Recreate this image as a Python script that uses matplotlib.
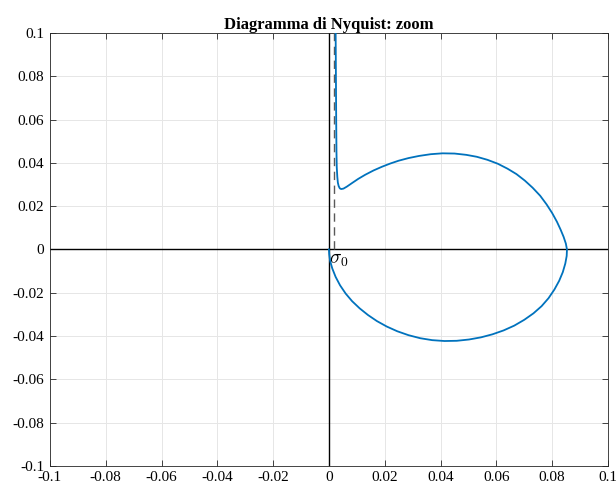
import numpy as np
import matplotlib
matplotlib.use("Agg")
import matplotlib.pyplot as plt

plt.rcParams["font.family"] = ["Liberation Serif", "DejaVu Serif"]
plt.rcParams["mathtext.fontset"] = "cm"

# Nyquist locus G(jw): w -> 0+ at the top (Im -> +inf), w -> inf at the origin
re_g = [0.0024, 0.0025, 0.0026, 0.0027, 0.0028, 0.0030, 0.0032, 0.0035,
        0.0039, 0.0044, 0.0052, 0.0064, 0.0082, 0.0105, 0.0130, 0.0160,
        0.0190, 0.0220, 0.0250, 0.0285, 0.0323, 0.0365, 0.0407, 0.0450,
        0.0492, 0.0530, 0.0568, 0.0605, 0.0640, 0.0672, 0.0702, 0.0730,
        0.0757, 0.0780, 0.0800, 0.0817, 0.0830, 0.0841, 0.0849, 0.0853,
        0.0852, 0.0847, 0.0838, 0.0825, 0.0808, 0.0787, 0.0762, 0.0733,
        0.0700, 0.0664, 0.0626, 0.0586, 0.0545, 0.0502, 0.0458, 0.0414,
        0.0370, 0.0327, 0.0285, 0.0245, 0.0207, 0.0172, 0.0140, 0.0110,
        0.0083, 0.0060, 0.0040, 0.0024, 0.0012, 0.0004, 0.0001, 0.0000]
im_g = [0.1000, 0.0800, 0.0600, 0.0450, 0.0380, 0.0335, 0.0308, 0.0292,
        0.0282, 0.0279, 0.0281, 0.0290, 0.0306, 0.0326, 0.0345, 0.0365,
        0.0382, 0.0397, 0.0410, 0.0422, 0.0432, 0.0440, 0.0444, 0.0443,
        0.0437, 0.0428, 0.0414, 0.0396, 0.0373, 0.0348, 0.0318, 0.0285,
        0.0248, 0.0208, 0.0168, 0.0128, 0.0092, 0.0058, 0.0027, 0.0000,
        -0.0030, -0.0065, -0.0105, -0.0145, -0.0185, -0.0225, -0.0262, -0.0295,
        -0.0325, -0.0352, -0.0374, -0.0392, -0.0406, -0.0416, -0.0422, -0.0423,
        -0.0419, -0.0410, -0.0396, -0.0378, -0.0356, -0.0331, -0.0303, -0.0272,
        -0.0239, -0.0204, -0.0166, -0.0127, -0.0088, -0.0052, -0.0022, 0.0000]

# abscissa of the vertical asymptote
sigma0 = 0.0019

ticks = [-0.1, -0.08, -0.06, -0.04, -0.02, 0, 0.02, 0.04, 0.06, 0.08, 0.1]
tick_labels = ["-0.1", "-0.08", "-0.06", "-0.04", "-0.02", "0",
               "0.02", "0.04", "0.06", "0.08", "0.1"]

fig = plt.figure(figsize=(6.16, 4.92), dpi=100)
ax = fig.add_axes([0.081, 0.053, 0.906, 0.880])

ax.axhline(0, color="k", lw=1.0, zorder=2)
ax.axvline(0, color="k", lw=1.0, zorder=2)
ax.plot([sigma0, sigma0], [0, 0.1], color=(0.35, 0.35, 0.35), lw=1.0,
        linestyle=(0, (6, 4)), zorder=3)
ax.plot(re_g, im_g, color="#0072BD", lw=1.3, zorder=4, solid_joinstyle="round")
ax.text(0.0, -0.0012, r"$\sigma_0$", fontsize=14, ha="left", va="top")

ax.set_xlim(-0.1, 0.1)
ax.set_ylim(-0.1, 0.1)
ax.set_xticks(ticks)
ax.set_xticklabels(tick_labels)
ax.set_yticks(ticks)
ax.set_yticklabels(tick_labels)
ax.tick_params(direction="in", length=4, width=0.6, labelsize=11,
               top=True, right=True, color="#262626", pad=4)
ax.grid(True, color="#e6e6e6", lw=0.7)
ax.set_axisbelow(True)
for s in ax.spines.values():
    s.set_color("#262626")
    s.set_linewidth(0.6)
ax.set_title("Diagramma di Nyquist: zoom", fontsize=12, fontweight="bold", pad=3)

fig.savefig("out.png", dpi=100)
